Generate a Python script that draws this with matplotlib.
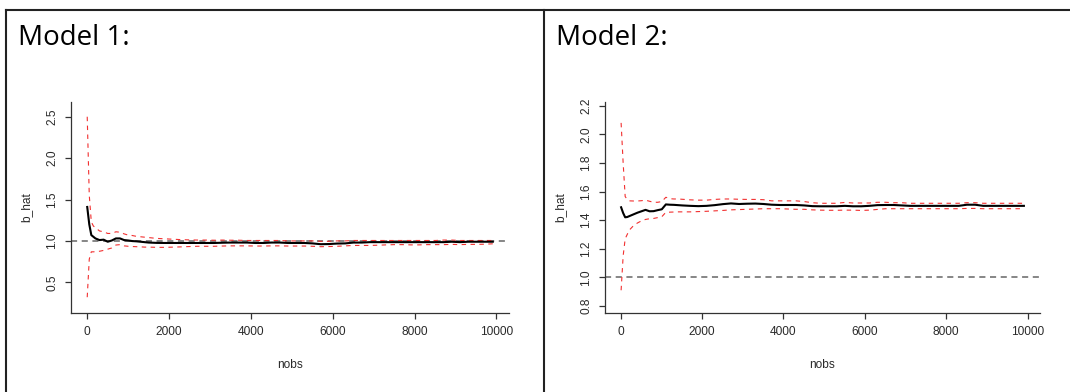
import matplotlib
matplotlib.use("Agg")
import matplotlib.pyplot as plt
from matplotlib.lines import Line2D

# sample sizes at which the estimate was recomputed
nobs = [10, 60, 110, 160, 210, 310, 410, 510, 610, 710, 810, 910, 1010, 1110,
        1210, 1310, 1410, 1510, 1710, 1910, 2110, 2310, 2510, 2710, 2910, 3110,
        3310, 3510, 3710, 3910, 4110, 4310, 4510, 4710, 4910, 5110, 5310, 5510,
        5710, 5910, 6110, 6310, 6510, 6710, 6910, 7110, 7310, 7510, 7710, 7910,
        8110, 8310, 8510, 8710, 8910, 9110, 9310, 9510, 9710, 9910]

# Model 1: estimate and confidence band
m1_b_hat = [1.41, 1.20, 1.07, 1.05, 1.03, 1.01, 1.015, 0.99, 1.005, 1.03, 1.03, 1.01,
            1.005, 0.998, 0.995, 0.99, 0.985, 0.98, 0.976, 0.975, 0.975, 0.975, 0.975, 0.975,
            0.975, 0.975, 0.978, 0.98, 0.98, 0.98, 0.975, 0.975, 0.98, 0.98, 0.975, 0.975,
            0.975, 0.97, 0.96, 0.962, 0.968, 0.97, 0.98, 0.98, 0.985, 0.985, 0.985, 0.985,
            0.985, 0.985, 0.985, 0.985, 0.985, 0.985, 0.99, 0.985, 0.99, 0.99, 0.99, 0.99]
m1_upper = [2.50, 1.55, 1.23, 1.18, 1.16, 1.12, 1.11, 1.09, 1.09, 1.11, 1.105, 1.085,
            1.07, 1.065, 1.055, 1.05, 1.045, 1.04, 1.03, 1.025, 1.02, 1.015, 1.012, 1.01,
            1.01, 1.008, 1.01, 1.008, 1.008, 1.005, 1.005, 1.005, 1.005, 1.005, 1.0, 1.0,
            1.0, 1.0, 0.995, 0.995, 1.0, 1.0, 1.005, 1.005, 1.005, 1.005, 1.005, 1.005,
            1.005, 1.005, 1.005, 1.005, 1.005, 1.01, 1.01, 1.005, 1.005, 1.005, 1.005, 1.005]
m1_lower = [0.32, 0.78, 0.868, 0.868, 0.87, 0.875, 0.885, 0.90, 0.915, 0.95, 0.955, 0.94,
            0.935, 0.932, 0.93, 0.928, 0.925, 0.925, 0.922, 0.922, 0.925, 0.928, 0.932, 0.935,
            0.935, 0.935, 0.938, 0.94, 0.94, 0.94, 0.938, 0.938, 0.94, 0.94, 0.938, 0.938,
            0.938, 0.935, 0.93, 0.932, 0.935, 0.94, 0.945, 0.945, 0.945, 0.948, 0.952, 0.955,
            0.955, 0.952, 0.952, 0.955, 0.955, 0.955, 0.958, 0.955, 0.958, 0.958, 0.96, 0.965]

# Model 2: estimate and confidence band
m2_b_hat = [1.49, 1.45, 1.42, 1.422, 1.428, 1.44, 1.452, 1.462, 1.472, 1.462, 1.463, 1.47,
            1.476, 1.51, 1.508, 1.507, 1.505, 1.503, 1.50, 1.498, 1.50, 1.505, 1.512, 1.517,
            1.513, 1.515, 1.516, 1.513, 1.508, 1.506, 1.506, 1.506, 1.503, 1.498, 1.497, 1.497,
            1.497, 1.50, 1.497, 1.497, 1.50, 1.505, 1.506, 1.506, 1.503, 1.50, 1.50, 1.50,
            1.50, 1.50, 1.50, 1.50, 1.508, 1.508, 1.50, 1.50, 1.50, 1.50, 1.50, 1.50]
m2_upper = [2.08, 1.80, 1.565, 1.545, 1.535, 1.534, 1.534, 1.536, 1.54, 1.532, 1.525, 1.525,
            1.53, 1.56, 1.55, 1.548, 1.548, 1.546, 1.542, 1.54, 1.54, 1.545, 1.548, 1.548,
            1.546, 1.545, 1.545, 1.543, 1.535, 1.535, 1.535, 1.535, 1.53, 1.522, 1.518, 1.518,
            1.518, 1.524, 1.52, 1.52, 1.52, 1.525, 1.525, 1.522, 1.522, 1.518, 1.518, 1.518,
            1.518, 1.518, 1.518, 1.518, 1.522, 1.522, 1.518, 1.518, 1.518, 1.518, 1.518, 1.518]
m2_lower = [0.91, 1.15, 1.27, 1.30, 1.33, 1.36, 1.38, 1.395, 1.405, 1.41, 1.412, 1.418,
            1.424, 1.455, 1.456, 1.457, 1.458, 1.458, 1.458, 1.46, 1.462, 1.465, 1.468, 1.472,
            1.474, 1.476, 1.478, 1.48, 1.48, 1.48, 1.478, 1.476, 1.476, 1.472, 1.47, 1.469,
            1.469, 1.47, 1.47, 1.468, 1.47, 1.475, 1.48, 1.48, 1.48, 1.48, 1.48, 1.48,
            1.48, 1.48, 1.48, 1.48, 1.482, 1.482, 1.48, 1.48, 1.48, 1.48, 1.48, 1.48]

true_b = 1.0

x_ticks = [0, 2000, 4000, 6000, 8000, 10000]
m1_y_ticks = [0.5, 1.0, 1.5, 2.0, 2.5]
m2_y_ticks = [0.8, 1.0, 1.2, 1.4, 1.6, 1.8, 2.0, 2.2]

W, H = 1070, 392
fig = plt.figure(figsize=(W / 100, H / 100), dpi=100)
fig.patch.set_facecolor("white")

axis_col = "#333333"
tick_font = dict(family=["Liberation Sans", "DejaVu Sans"], size=8.6, color="#2a2a2a")


def panel(rect, b, up, lo, ylim, yticks, title, title_x):
    ax = fig.add_axes(rect)
    ax.plot(nobs, up, color="#f23030", lw=0.8, linestyle=(0, (4, 4)), zorder=2)
    ax.plot(nobs, lo, color="#f23030", lw=0.8, linestyle=(0, (4, 4)), zorder=2)
    ax.plot(nobs, b, color="black", lw=1.5, zorder=3)
    ax.axhline(true_b, color="#666666", lw=1.1, linestyle=(0, (4, 3)), zorder=1)
    ax.set_xlim(-386, 10306)
    ax.set_ylim(*ylim)
    for s in ("top", "right"):
        ax.spines[s].set_visible(False)
    for s in ("left", "bottom"):
        ax.spines[s].set_color(axis_col)
        ax.spines[s].set_linewidth(0.9)
    ax.set_xticks(x_ticks)
    ax.set_xticklabels([str(v) for v in x_ticks], **tick_font)
    ax.set_yticks(yticks)
    ax.set_yticklabels([f"{v:.1f}" for v in yticks], rotation=90, va="center", **tick_font)
    ax.tick_params(axis="both", length=4.3, width=0.9, color=axis_col)
    ax.tick_params(axis="x", pad=5)
    ax.tick_params(axis="y", pad=5)
    ax.set_xlabel("nobs", labelpad=15, **tick_font)
    ax.set_ylabel("b_hat", labelpad=10, **tick_font)
    fig.text(title_x / W, 1 - 45 / H, title, family=["Open Sans", "DejaVu Sans"],
             size=20, color="black", va="baseline", ha="left")
    return ax


panel([71 / W, 79 / H, 438 / W, 211 / H], m1_b_hat, m1_upper, m1_lower,
      (0.129, 2.678), m1_y_ticks, "Model 1:", 18)
panel([605 / W, 79 / H, 435 / W, 211 / H], m2_b_hat, m2_upper, m2_lower,
      (0.751, 2.226), m2_y_ticks, "Model 2:", 556)

# panel frames
frame = dict(color="#222222", lw=1.5, transform=fig.transFigure)
fig.add_artist(Line2D([6 / W, 1], [1 - 10 / H, 1 - 10 / H], **frame))
fig.add_artist(Line2D([6 / W, 6 / W], [0, 1 - 10 / H], **frame))
fig.add_artist(Line2D([543.5 / W, 543.5 / W], [0, 1 - 10 / H], **frame))

fig.savefig("out.png", dpi=100)
